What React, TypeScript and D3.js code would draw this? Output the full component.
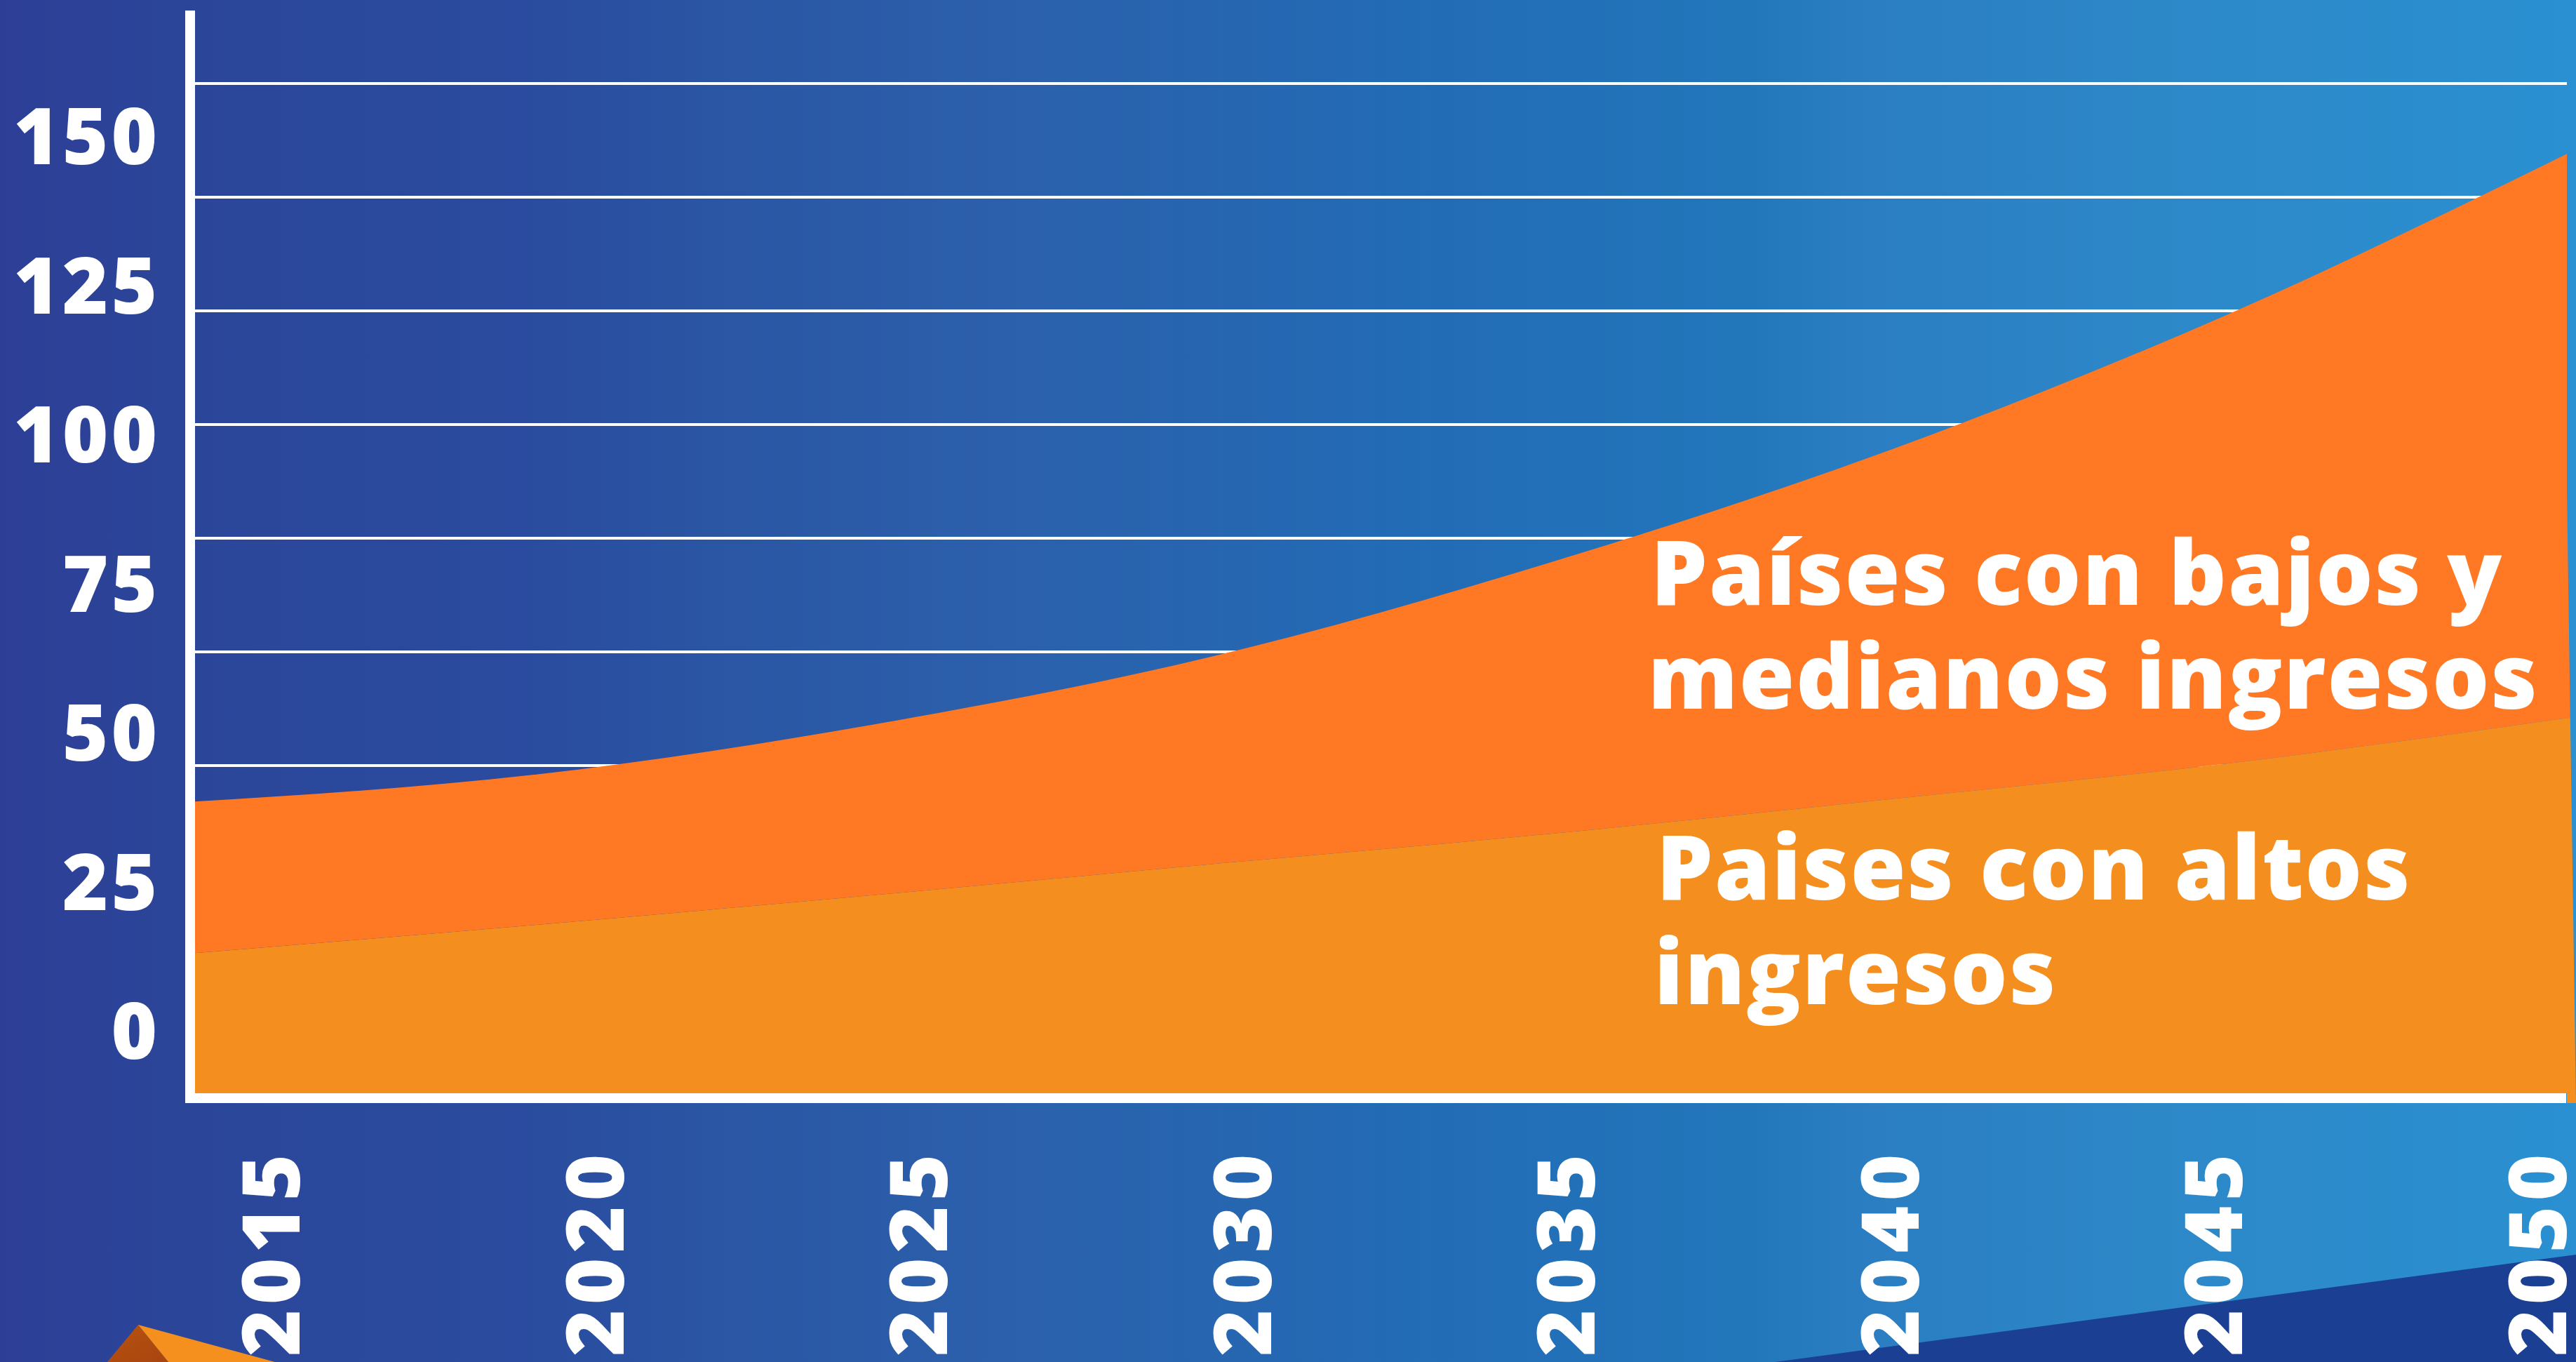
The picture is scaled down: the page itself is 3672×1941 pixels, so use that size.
import React from "react";
import * as d3 from "d3";

// ---- Data ----
const years = [2015, 2020, 2025, 2030, 2035, 2040, 2045, 2050];
const highIncome = [23.5, 28.2, 33.2, 38.4, 43.5, 49.3, 55.3, 62.9];
const lowMiddleIncome = [25.4, 25.2, 28.6, 34.8, 45.5, 58.5, 75.3, 94.6];
const yTickValues = [0, 25, 50, 75, 100, 125, 150];
const gridIndex = [0, 1, 2, 3, 4, 5, 6];
const seriesKeys = ["high", "lowMiddle"];
const seriesColors = { high: "#f48e1e", lowMiddle: "#ff7824" };
const labelLowMiddle = ["Países con bajos y", "medianos ingresos"];
const labelHigh = ["Paises con altos", "ingresos"];

const W = 3672;
const H = 1941;
const FONT = "'Open Sans', 'DejaVu Sans', sans-serif";

export default function App() {
  const table = years.map((year, i) => ({
    year,
    high: highIncome[i],
    lowMiddle: lowMiddleIncome[i],
  }));

  const x = d3.scaleLinear().domain([2015, 2050]).range([278, 3659]);
  const y = d3.scaleLinear().domain([0, 150]).range([1558, 283]);
  const xLabel = d3.scalePoint<number>().domain(years).range([386, 3617]);
  const grid = d3.scaleLinear().domain([0, 6]).range([1091, 119]);

  const stacked = d3.stack<any>().keys(seriesKeys)(table);
  const area = d3
    .area<any>()
    .x((d) => x(d.data.year))
    .y0((d) => y(d[0]))
    .y1((d) => y(d[1]))
    .curve(d3.curveMonotoneX);

  const xr = x(2050);
  const yHigh = y(highIncome[highIncome.length - 1]);

  return (
    <svg
      width={W}
      height={H}
      viewBox={`0 0 ${W} ${H}`}
      style={{ position: "absolute", left: 0, top: 0, display: "block" }}
    >
      <defs>
        <linearGradient id="bg" x1="0" y1="0" x2="1" y2="0">
          <stop offset="0" stopColor="#2d3e96" />
          <stop offset="0.07" stopColor="#2b4699" />
          <stop offset="0.2" stopColor="#2a4b9f" />
          <stop offset="0.27" stopColor="#2a55a3" />
          <stop offset="0.38" stopColor="#2c5fab" />
          <stop offset="0.56" stopColor="#226cb6" />
          <stop offset="0.68" stopColor="#2277bb" />
          <stop offset="0.72" stopColor="#2a7dc1" />
          <stop offset="0.84" stopColor="#2d88c8" />
          <stop offset="1" stopColor="#2a90d1" />
        </linearGradient>
        <linearGradient id="pyrLeft" x1="0" y1="0" x2="1" y2="1">
          <stop offset="0" stopColor="#b8530f" />
          <stop offset="1" stopColor="#a84410" />
        </linearGradient>
      </defs>

      <rect x={0} y={0} width={W} height={H} fill="url(#bg)" />

      {/* decorative shapes at the bottom */}
      <path d="M197,1888 L153,1941 L240,1941 Z" fill="url(#pyrLeft)" />
      <path d="M197,1888 L240,1941 L392,1941 Z" fill="#f5901e" />
      <path d={`M2530,${H} L${W},1788 L${W},${H} Z`} fill="#1b3f93" />

      {/* gridlines */}
      {gridIndex.map((g) => (
        <rect
          key={g}
          x={278}
          y={grid(g) - 2}
          width={3659 - 278}
          height={4}
          fill="#ffffff"
        />
      ))}

      {/* stacked areas */}
      {stacked.map((s) => (
        <path key={s.key} d={area(s) as string} fill={(seriesColors as any)[s.key]} />
      ))}

      {/* slight slanted right edge of the area block */}
      <path
        d={`M${xr},700 L${xr + 4.8},${yHigh} L${xr},${yHigh} Z`}
        fill={seriesColors.lowMiddle}
      />
      <path
        d={`M${xr},${yHigh} L${xr + 4.8},${yHigh} L${W},1572 L${xr},1572 Z`}
        fill={seriesColors.high}
      />

      {/* axes */}
      <rect x={264} y={15} width={14} height={1572 - 15} fill="#ffffff" />
      <rect x={264} y={y(0)} width={3658 - 264} height={14} fill="#ffffff" />

      {/* y tick labels */}
      {yTickValues.map((v) => (
        <text
          key={v}
          x={228}
          y={y(v) - 49}
          textAnchor="end"
          fill="#ffffff"
          fontFamily={FONT}
          fontWeight={800}
          fontSize={112}
          letterSpacing={4}
        >
          {v}
        </text>
      ))}

      {/* x tick labels */}
      {years.map((yr) => (
        <text
          key={yr}
          transform={`translate(${(xLabel(yr) as number) + 41},1933) rotate(-90)`}
          textAnchor="start"
          fill="#ffffff"
          fontFamily={FONT}
          fontWeight={800}
          fontSize={114}
          letterSpacing={7}
        >
          {yr}
        </text>
      ))}

      {/* series labels */}
      <g fill="#ffffff" fontFamily={FONT} fontWeight={800} fontSize={128} letterSpacing={2}>
        <text x={2353} y={862}>{labelLowMiddle[0]}</text>
        <text x={2349} y={1010}>{labelLowMiddle[1]}</text>
        <text x={2361} y={1282}>{labelHigh[0]}</text>
        <text x={2358} y={1431}>{labelHigh[1]}</text>
      </g>
    </svg>
  );
}
